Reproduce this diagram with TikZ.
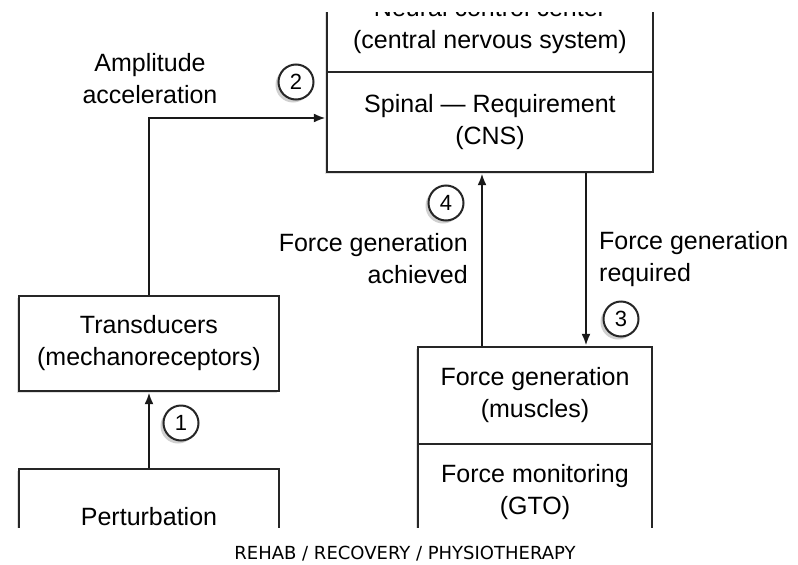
\documentclass[tikz,border=0pt]{standalone}
\usepackage{fontspec}
\setmainfont{Liberation Sans}
\newfontfamily\capfont{DejaVu Sans}
\usetikzlibrary{shadows,arrows.meta}

\tikzstyle{box}=[shape=rectangle,
	       draw=black!85,
	       fill=white,
	       line width=2.3pt,
	       minimum width=260pt,
	       minimum height=95pt,
	       inner sep=0pt,
	       align=center,
	       font=\fontsize{25}{32}\selectfont,
	       drop shadow={shadow xshift=-2pt,shadow yshift=-2pt,fill=black!20,opacity=.6}]
\tikzstyle{num}=[shape=circle,
	       draw=black!85,
	       fill=white,
	       line width=2pt,
	       minimum size=35pt,
	       inner sep=0pt,
	       font=\fontsize{22}{22}\selectfont,
	       drop shadow={shadow xshift=-3pt,shadow yshift=-3pt,fill=black!30,opacity=.6}]
\tikzstyle{lbl}=[inner sep=0pt,
	       font=\fontsize{25}{32}\selectfont]
\tikzstyle{arr}=[line width=2.8pt,
	       draw=black!90,
	       -{Latex[length=12pt,width=9pt]}]

\begin{document}
\begin{tikzpicture}[x=1pt,y=-1pt]

\fill[white] (0,0) rectangle (798,565);
\useasboundingbox (0,0) rectangle (798,565);

\begin{scope}
\clip (0,12) rectangle (798,527);

% central nervous system box, split in two
\node[box, minimum width=326pt, minimum height=92pt] (neural) at (490,26) {Neural control center\\(central nervous system)};
\path (neural) ++(0,96) node[box, minimum width=326pt, minimum height=100pt] (spinal) {Spinal — Requirement\\(CNS)};

% receptor side on the left
\node[box] (trans) at (149,343.5) {Transducers\\(mechanoreceptors)};
\path (trans) ++(0,173.5) node[box, minimum height=96pt] (pert) {Perturbation};

% muscle side on the right
\node[box, minimum width=234pt, minimum height=97pt] (fgen) at (535,395.5) {Force generation\\(muscles)};
\path (fgen) ++(0,97) node[box, minimum width=234pt, minimum height=97pt] (fmon) {Force monitoring\\(GTO)};

% connectors between the boxes
\coordinate (up) at (482,300);
\coordinate (dn) at (586,300);
\draw[arr] (trans.north) |- ([yshift=4pt]spinal.west);
\draw[arr] (pert.north) -- (trans.south);
\draw[arr] (fgen.north -| up) -- (spinal.south -| up);
\draw[arr] (spinal.south -| dn) -- (fgen.north -| dn);

% step numbers
\node[num] (c1) at (181,423) {1};
\node[num] (c2) at (296,82) {2};
\node[num] (c3) at (621,319) {3};
\node[num] (c4) at (446,203) {4};

% connector labels
\node[lbl, align=center] (amp) at (150,79) {Amplitude\\acceleration};
\node[lbl, align=right, anchor=east] (ach) at (468,259) {Force generation\\achieved};
\node[lbl, align=left, anchor=west] (req) at (599,259) {Force generation\\required};
\end{scope}

% caption under the figure
\node[font=\capfont\fontsize{18}{18}\selectfont] (cap) at (405,554) {REHAB / RECOVERY / PHYSIOTHERAPY};

\end{tikzpicture}
\end{document}
